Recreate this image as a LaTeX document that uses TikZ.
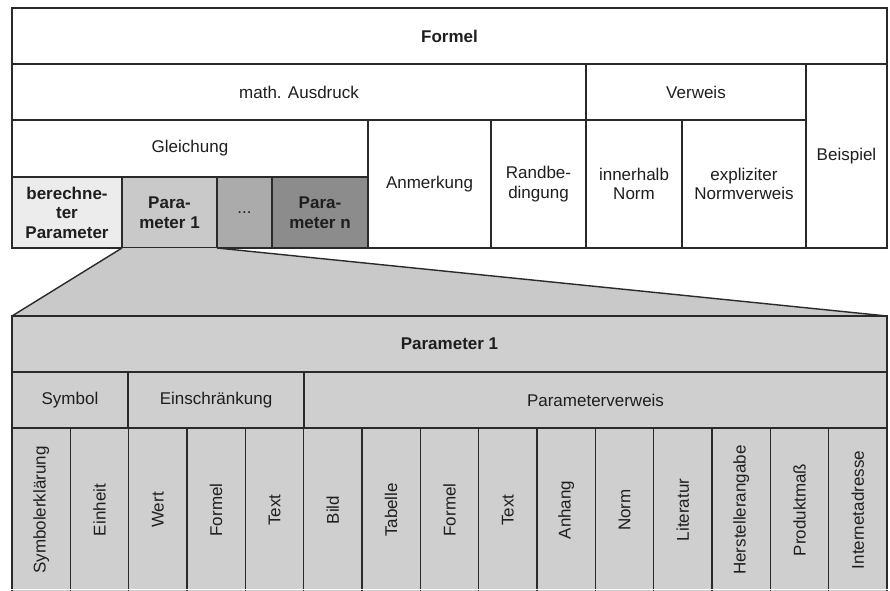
\documentclass[tikz,border=0pt]{standalone}
\usepackage{fontspec}
\setmainfont{Liberation Sans}
\definecolor{lineC}{HTML}{2A2A2A}
\definecolor{txtC}{HTML}{1E1E1E}
\definecolor{gA}{HTML}{ECECEC}
\definecolor{gB}{HTML}{C9C9C9}
\definecolor{gC}{HTML}{ABABAB}
\definecolor{gD}{HTML}{8C8C8C}
\definecolor{gT}{HTML}{CFCFCF}
\tikzset{
  cellbox/.style={draw=lineC, line width=1.4pt, inner sep=0pt, outer sep=0pt,
    rectangle, align=center, text=txtC,
    font=\fontsize{17}{19.5}\selectfont},
  bf/.style={font=\fontsize{17}{19.5}\selectfont\bfseries},
  funnel/.style={draw=lineC, line width=1.4pt, line join=round}
}
\newcommand\mycell[8][]{%
  \node[cellbox, #1, fill=#7, minimum width={#5pt-#3pt}, minimum height={#6pt-#4pt}]
    (#2) at ({(#3+#5)/2},{(#4+#6)/2}) {#8};}
\newcommand\vt[1]{\rotatebox{90}{#1}}
\begin{document}
\begin{tikzpicture}[x=1pt,y=-1pt]
\useasboundingbox (0,0) rectangle (890,590);
\fill[white] (0,0) rectangle (890,590);
% top table
\mycell[bf]{formel}{12}{8}{887}{64}{white}{Formel}
\mycell{mathaus}{12}{64}{586}{120}{white}{math. Ausdruck}
\mycell{verweis}{586}{64}{806}{120}{white}{Verweis}
\mycell{beispiel}{806}{64}{887}{248}{white}{Beispiel}
\mycell{gleichung}{12}{120}{368}{177}{white}{Gleichung}
\mycell{anmerkung}{368}{120}{491}{248}{white}{Anmerkung}
\mycell{randbed}{491}{120}{586}{248}{white}{Randbe-\\dingung}
\mycell{innerhalb}{586}{120}{682}{248}{white}{innerhalb\\Norm}
\mycell{expliziter}{682}{120}{806}{248}{white}{expliziter\\Normverweis}
\mycell[bf]{berechnet}{12}{177}{122}{248}{gA}{berechne-\\ter\\Parameter}
\mycell[bf]{paraeins}{122}{177}{217}{248}{gB}{Para-\\meter 1}
\mycell{dots}{217}{177}{272}{248}{gC}{...}
\mycell[bf]{paran}{272}{177}{368}{248}{gD}{Para-\\meter n}
% funnel to the bottom table
\coordinate (btl) at (12,316);
\coordinate (btr) at (887,316);
\fill[gB] (paraeins.south west) -- (btl) -- (btr) -- (paraeins.south east) -- cycle;
\draw[funnel] (paraeins.south west) -- (btl);
\draw[funnel] (paraeins.south east) -- (btr);
\mycell[bf]{ptitle}{12}{316}{887}{372}{gT}{Parameter 1}
\mycell{symbol}{12}{372}{128}{428}{gT}{Symbol}
\mycell{einschr}{128}{372}{304}{428}{gT}{Einschränkung}
\mycell{pverweis}{304}{372}{887}{428}{gT}{Parameterverweis}
\foreach \i/\t in {0/Symbolerklärung,1/Einheit,2/Wert,3/Formel,4/Text,5/Bild,6/Tabelle,7/Formel,8/Text,9/Anhang,10/Norm,11/Literatur,12/Herstellerangabe,13/Produktmaß,14/Internetadresse}{
  \pgfmathsetmacro\xa{12+\i*875/15}
  \pgfmathsetmacro\xb{12+(\i+1)*875/15}
  \node[cellbox, fill=gT, minimum width={\xb pt-\xa pt}, minimum height={610pt-428pt}]
    (sub\i) at ({(\xa+\xb)/2},{(428+610)/2}) {};
  \node[text=txtC, font=\fontsize{17}{19.5}\selectfont, inner sep=0pt] (subt\i) at ({(\xa+\xb)/2},510) {\vt{\t}};
}
\fill[white] (0,588.5) rectangle (890,590);
\end{tikzpicture}
\end{document}
